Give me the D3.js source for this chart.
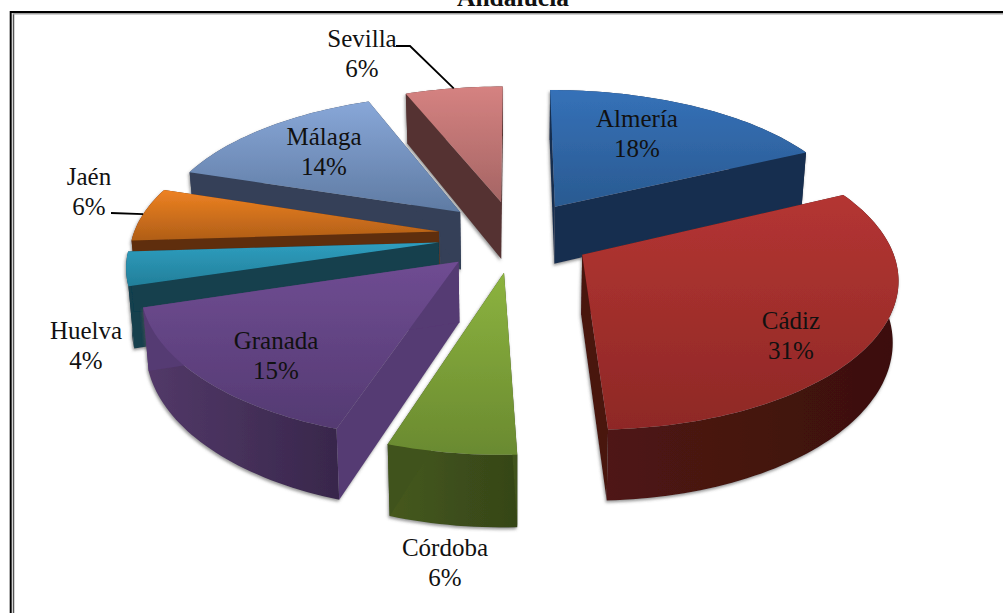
<!DOCTYPE html>
<html>
<head>
<meta charset="utf-8">
<script src="https://cdn.jsdelivr.net/npm/d3@7"></script>
<style>
  body { margin: 0; background: #fff; }
  text { font-family: "Liberation Serif", serif; fill: #111; }
</style>
</head>
<body>
<svg id="chart" width="1003" height="613"></svg>
<script>
// data
const title = "Andalucía";
const provinces = ["Almería", "Cádiz", "Córdoba", "Granada", "Huelva", "Jaén", "Málaga", "Sevilla"];
const shares = [17.9, 31.45, 5.7, 15.25, 3.7, 6, 14, 6];

// colours per slice
const topLight = ["#3571b8", "#b43532", "#8cb33f", "#6f4c92", "#2f9ebf", "#ee8222", "#88a7d8", "#d58281"];
const topDark = ["#2a5a91", "#8e2826", "#6a8a30", "#543a72", "#227f9a", "#b05e17", "#5f7ba3", "#a56564"];
const wallColor = ["#182f4f", "#4a1411", "#3f521a", "#553a73", "#123f4e", "#5f2f0c", "#344158", "#553332"];
const rimLeft = ["#1b3557", "#4f1613", "#46591d", "#533969", "#14475a", "#6a350e", "#3a4863", "#5c3837"];
const rimRight = ["#162a47", "#3b100d", "#354518", "#38274b", "#103744", "#55290a", "#2e3a50", "#4c2d2c"];

// label placement: centre x and first baseline
const labelX = [637, 791, 445, 276, 86, 89, 324, 362];
const labelY = [127, 329, 556, 349, 339, 185, 145, 47];
const leaderFrom = { "Sevilla": [[396, 46], [410, 46]], "Jaén": [[111, 213]] };

// sizes of the pseudo 3D pie
const cx = 515, cy = 236;
const radius = 306, explode = 77, height = 59;
const squash = 0.465, persX = 2200, persY = 2037, bottomShrink = 0.985;

function project(px, py, z) {
    let sx = 1 / (1 - py / persX);
    let sy = 1 / (1 - py / persY);
    let x = px * sx * (z ? bottomShrink : 1);
    return [cx + x, cy + squash * py * sy + z * sy];
}

const pie = d3.pie().sort(null).value(d => d);
const slices = pie(shares).map(function (d, i) {
    let mid = (d.startAngle + d.endAngle) / 2;
    return {
        i: i,
        a0: d.startAngle,
        a1: d.endAngle,
        mid: mid,
        ox: explode * Math.sin(mid),
        oy: -explode * Math.cos(mid)
    };
});

function rimPoint(s, a, z) {
    return project(s.ox + radius * Math.sin(a), s.oy - radius * Math.cos(a), z);
}
function rimPoints(s, z) {
    let n = Math.ceil((s.a1 - s.a0) * 40);
    return d3.range(n + 1).map(k => rimPoint(s, s.a0 + (s.a1 - s.a0) * k / n, z));
}

const line = d3.line();
const svg = d3.select("#chart");
const defs = svg.append("defs");

let shadow = defs.append("filter").attr("id", "shadow")
    .attr("x", "-10%").attr("y", "-10%").attr("width", "120%").attr("height", "120%");
shadow.append("feDropShadow")
    .attr("dx", -1).attr("dy", 2).attr("stdDeviation", 1.6)
    .attr("flood-color", "#555").attr("flood-opacity", 0.6);

slices.forEach(function (s) {
    let g = defs.append("linearGradient").attr("id", "top" + s.i)
        .attr("x1", 0).attr("y1", 0).attr("x2", 0).attr("y2", 1);
    g.append("stop").attr("offset", "0%").attr("stop-color", topLight[s.i]);
    g.append("stop").attr("offset", "100%").attr("stop-color", topDark[s.i]);
    let r = defs.append("linearGradient").attr("id", "rim" + s.i)
        .attr("x1", 0).attr("y1", 0).attr("x2", 1).attr("y2", 0);
    r.append("stop").attr("offset", "0%").attr("stop-color", rimLeft[s.i]);
    r.append("stop").attr("offset", "100%").attr("stop-color", rimRight[s.i]);
});

// frame
svg.append("path").attr("d", "M13.5,613V13").attr("fill", "none")
    .attr("stroke", "#555").attr("stroke-width", 1.5);
svg.append("path").attr("d", "M13,13.8H1003").attr("fill", "none")
    .attr("stroke", "#a0a0a0").attr("stroke-width", 1.5);
svg.append("path").attr("d", "M10.7,613V12H1003").attr("fill", "none")
    .attr("stroke", "#000").attr("stroke-width", 2);

// title is cut by the top of the page
svg.append("text")
    .attr("x", 513).attr("y", 6)
    .attr("text-anchor", "middle")
    .attr("font-weight", "bold")
    .attr("font-size", 25.5)
    .text(title);

// back slices first
let groups = svg.append("g").selectAll("g")
    .data(slices.slice().sort((a, b) => d3.descending(Math.cos(a.mid), Math.cos(b.mid))))
    .enter()
    .append("g")
    .attr("filter", "url(#shadow)");

groups.each(function (s) {
    let g = d3.select(this);
    let apexTop = project(s.ox, s.oy, 0);
    let apexBot = project(s.ox, s.oy, height);

    // outer rim
    let rimTop = rimPoints(s, 0);
    let rimBot = rimPoints(s, height).reverse();
    g.append("path")
        .attr("d", line(rimTop.concat(rimBot)) + "Z")
        .attr("fill", "url(#rim" + s.i + ")");

    // the two cut faces
    [s.a0, s.a1].forEach(function (a) {
        g.append("path")
            .attr("d", line([apexTop, rimPoint(s, a, 0), rimPoint(s, a, height), apexBot]) + "Z")
            .attr("fill", wallColor[s.i]);
    });

    // top face
    g.append("path")
        .attr("d", line([apexTop].concat(rimTop)) + "Z")
        .attr("fill", "url(#top" + s.i + ")");
});

// leader lines
slices.forEach(function (s) {
    let from = leaderFrom[provinces[s.i]];
    if (!from) return;
    svg.append("path")
        .attr("d", line(from.concat([rimPoint(s, s.mid, 0)])))
        .attr("fill", "none")
        .attr("stroke", "#000")
        .attr("stroke-width", 1.8);
});

// labels
let labels = svg.append("g").selectAll("text")
    .data(slices)
    .enter()
    .append("text")
    .attr("text-anchor", "middle")
    .attr("font-size", 25);
labels.append("tspan")
    .attr("x", d => labelX[d.i])
    .attr("y", d => labelY[d.i])
    .text(d => provinces[d.i]);
labels.append("tspan")
    .attr("x", d => labelX[d.i])
    .attr("y", d => labelY[d.i] + 30)
    .text(d => Math.round(shares[d.i]) + "%");
</script>
</body>
</html>
